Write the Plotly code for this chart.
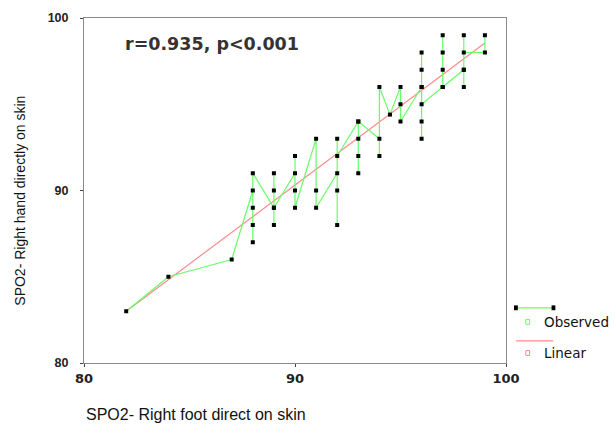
import plotly.graph_objects as go

# Observed values (joined in case order, as in the reference)
obs_x = [82, 84, 87,
         88, 88, 88, 88, 88,
         89, 89, 89, 89, 89,
         90, 90, 90, 90,
         91, 91, 91,
         92, 92, 92, 92, 92,
         93, 93, 93, 93, 93,
         94, 94, 94, 94.5,
         95, 95, 95,
         96, 96, 96, 96, 96, 96, 96,
         97, 97, 97, 97, 97,
         98, 98, 98, 98, 98,
         99, 99]
obs_y = [83, 85, 86,
         90, 87, 88, 89, 91,
         89, 88, 91, 90, 89,
         91, 92, 90, 89,
         93, 90, 89,
         91, 88, 90, 93, 92,
         94, 91, 92, 93, 94,
         93, 92, 96, 94.4,
         96, 95, 94,
         96, 93, 94, 98, 97, 96, 95,
         96, 99, 98, 97, 96,
         97, 96, 99, 97, 98,
         98, 99]

# Linear fit line (end points)
lin_x = [82, 99]
lin_y = [83.0, 98.55]

x_ticks = [80, 90, 100]
y_ticks = [80, 90, 100]

FONT = "Liberation Sans, Arial, sans-serif"
WIDE = "DejaVu Sans, Verdana, sans-serif"
GREEN = "#66ff66"
RED = "#ff8a8a"

fig = go.Figure()
fig.add_trace(go.Scatter(
    x=lin_x, y=lin_y, mode="lines",
    line=dict(color=RED, width=1.2), hoverinfo="skip", showlegend=False))
fig.add_trace(go.Scatter(
    x=obs_x, y=obs_y, mode="lines+markers",
    line=dict(color=GREEN, width=1.2),
    marker=dict(symbol="square", size=4, color="black"),
    showlegend=False))

axis_common = dict(
    showgrid=False, zeroline=False, showline=True, linecolor="#8a8a8a",
    linewidth=1, mirror=True, ticks="outside", ticklen=3, tickcolor="#444")

fig.update_xaxes(range=[80, 100], tickvals=x_ticks,
                 ticktext=[str(t) for t in x_ticks],
                 tickfont=dict(family=WIDE, size=13, color="#222", weight="bold"),
                 **axis_common)
fig.update_yaxes(range=[80, 100], tickvals=y_ticks,
                 ticktext=[str(t) for t in y_ticks],
                 tickfont=dict(family=FONT, size=12.5, color="#222", weight="bold"),
                 ticklabelstandoff=9,
                 **axis_common)

# Legend drawn manually (SPSS style)
shapes = [
    dict(type="line", xref="paper", yref="paper", x0=1.024, x1=1.112,
         y0=0.16, y1=0.16, line=dict(color=GREEN, width=1.2)),
    dict(type="rect", xref="paper", yref="paper", x0=1.019, x1=1.028,
         y0=0.153, y1=0.167, fillcolor="black", line=dict(width=0)),
    dict(type="rect", xref="paper", yref="paper", x0=1.108, x1=1.117,
         y0=0.153, y1=0.167, fillcolor="black", line=dict(width=0)),
    dict(type="rect", xref="paper", yref="paper", x0=1.047, x1=1.056,
         y0=0.112, y1=0.126, fillcolor="white", line=dict(color=GREEN, width=1)),
    dict(type="line", xref="paper", yref="paper", x0=1.024, x1=1.112,
         y0=0.064, y1=0.064, line=dict(color=RED, width=1.2)),
    dict(type="rect", xref="paper", yref="paper", x0=1.047, x1=1.056,
         y0=0.022, y1=0.036, fillcolor="white", line=dict(color=RED, width=1)),
]

annotations = [
    dict(text="<b>r=0.935, p&lt;0.001</b>", xref="paper", yref="paper",
         x=0.092, y=0.925, xanchor="left", yanchor="middle", showarrow=False,
         font=dict(family=WIDE, size=17.5, color="#333")),
    dict(text="Observed", xref="paper", yref="paper", x=1.085, y=0.119,
         xanchor="left", yanchor="middle", showarrow=False,
         font=dict(family=WIDE, size=13.5, color="#111")),
    dict(text="Linear", xref="paper", yref="paper", x=1.085, y=0.029,
         xanchor="left", yanchor="middle", showarrow=False,
         font=dict(family=WIDE, size=13.5, color="#111")),
    dict(text="SPO2- Right foot direct on skin", xref="paper", yref="paper",
         x=0.0, y=-0.15, xanchor="left", yanchor="middle", showarrow=False,
         font=dict(family=FONT, size=16, color="#111")),
    dict(text="SPO2- Right hand directly on skin", xref="paper", yref="paper",
         x=-0.152, y=0.47, xanchor="center", yanchor="middle", showarrow=False,
         textangle=-90,
         font=dict(family=FONT, size=14, color="#111")),
]

fig.update_layout(
    width=615, height=427,
    margin=dict(l=84, r=109, t=18, b=64),
    paper_bgcolor="white", plot_bgcolor="white",
    shapes=shapes, annotations=annotations,
)

fig.write_html("out.html")
